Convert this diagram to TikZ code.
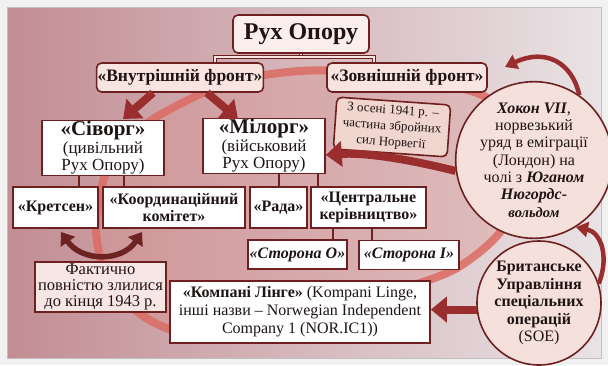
\documentclass[tikz,border=0pt]{standalone}
\usepackage{fontspec}
\setmainfont{Liberation Serif}
\usetikzlibrary{arrows.meta,shapes.geometric,calc}
\definecolor{maroon}{HTML}{6E1F1F}
\definecolor{boxpink}{HTML}{F8E4E0}
\definecolor{ruhpink}{HTML}{FCEEEA}
\definecolor{tanpink}{HTML}{F0D6CF}
\definecolor{faktpink}{HTML}{F7E6E3}
\definecolor{circpink}{HTML}{F5E0DB}
\definecolor{arrowred}{HTML}{9A2E2E}
\definecolor{darkarrow}{HTML}{6E2323}
\definecolor{ringcol}{HTML}{DB6C63}
\definecolor{ringfill}{HTML}{D98F8C}
\definecolor{bgL}{HTML}{C28D93}
\definecolor{bgR}{HTML}{E9E3E5}
\definecolor{framegray}{HTML}{F1F1F1}
\definecolor{txt}{HTML}{1E1414}
\newcommand\fsz[2]{\fontsize{#1}{#2}\selectfont}
\begin{document}
\begin{tikzpicture}[x=1pt,y=-1pt,
  box/.style={draw=maroon, line width=1.6pt, fill=white, align=center, inner sep=1pt, text=txt},
  rbox/.style={box, rounded corners=5pt, fill=boxpink},
  circ/.style={circle, draw=maroon, line width=1.6pt, fill=circpink, align=center, inner sep=0pt, text=txt},
  conn/.style={draw=maroon, line width=1.8pt},
  bar/.style={draw=maroon, line width=0.9pt, double=boxpink, double distance=2.4pt},
  blockarrow/.style={line width=8pt, draw=arrowred, -{Triangle[width=25pt,length=16pt]}},
  thinarrow/.style={line width=4.5pt, draw=arrowred, -{Triangle[width=15pt,length=12pt]}},
  dblarrow/.style={line width=5.5pt, draw=darkarrow, {Triangle[width=17pt,length=12pt]}-{Triangle[width=17pt,length=12pt]}}
]
\useasboundingbox (0,0) rectangle (608,365);
\fill[framegray] (0,0) rectangle (608,365);
\shade[left color=bgL, right color=bgR] (7,7) rectangle (601,358);
\draw[black!25, line width=0.6pt] (7,7) rectangle (601,358);

% ring
\begin{scope}
\clip (7,7) rectangle (601,358);
\fill[ringfill, opacity=0.35] plot[smooth cycle] coordinates {(163,113) (230,82) (300,71) (370,72) (430,82) (490,100) (522,160) (505,225) (465,263) (420,283) (300,318) (190,332) (143,316) (108,280) (96,230) (105,175) (130,138)};
\draw[ringcol, line width=8pt, opacity=0.85] plot[smooth cycle] coordinates {(163,113) (230,82) (300,71) (370,72) (430,82) (490,100) (522,160) (505,225) (465,263) (420,283) (300,318) (190,332) (143,316) (108,280) (96,230) (105,175) (130,138)};
\end{scope}

% top level
\node[rbox, fill=ruhpink, minimum width=136, minimum height=38] (ruh) at (301,34) {\fsz{24}{26}\bfseries Рух Опору};
\node[rbox, minimum width=164, minimum height=29] (vnut) at (180,77.5) {\fsz{17.5}{19}\bfseries «Внутрішній фронт»};
\node[rbox, minimum width=160, minimum height=29] (zovn) at (407,77.5) {\fsz{17.5}{19}\bfseries «Зовнішній фронт»};

\coordinate (b1) at (215,57);
\coordinate (b2) at (374,57);
\draw[bar] (ruh.south) -- (ruh.south |- b1);
\draw[bar] (vnut.north -| b1) |- (b2) -- (zovn.north -| b2);

% level 2
\node[box, minimum width=122, minimum height=54, font=\fsz{17}{17.5}] (sivorg) at (103,148) {{\fsz{21}{18}\bfseries «Сіворг»}\\(цивільний\\Рух Опору)};
\node[box, minimum width=122, minimum height=52, font=\fsz{17}{17.5}] (milorg) at (264,146) {{\fsz{21}{18}\bfseries «Мілорг»}\\(військовий\\Рух Опору)};

% level 3
\node[box, minimum width=85, minimum height=41, font=\fsz{16}{17}\bfseries] (kret) at (55.5,207.5) {«Кретсен»};
\node[box, minimum width=142, minimum height=41, font=\fsz{16}{17}\bfseries] (koord) at (174,207.5) {«Координаційний\\комітет»};
\node[box, minimum width=57, minimum height=41, font=\fsz{16}{17}\bfseries] (rada) at (278.5,207.5) {«Рада»};
\node[box, minimum width=115, minimum height=41, font=\fsz{16}{17}\bfseries] (centr) at (368.5,207.5) {«Центральне\\керівництво»};

\node[box, minimum width=99, minimum height=29, font=\fsz{16}{17}\bfseries\itshape] (storO) at (297.5,254.5) {«Сторона О»};
\node[box, minimum width=100, minimum height=29, font=\fsz{16}{17}\bfseries\itshape] (storI) at (409,255) {«Сторона І»};

\draw[conn] (sivorg.south -| 79,0) -- (kret.north -| 79,0);
\draw[conn] (sivorg.south -| 124,0) -- (koord.north -| 124,0);
\draw[conn] (milorg.south -| 279,0) -- (rada.north -| 279,0);
\draw[conn] (milorg.south -| 318,0) -- (centr.north -| 318,0);
\draw[conn] (centr.south -| 333,0) -- (storO.north -| 333,0);
\draw[conn] (centr.south -| 372,0) -- (storI.north -| 372,0);

\node[box, fill=faktpink, minimum width=131, minimum height=50, font=\fsz{16.5}{16}] (fakt) at (100.5,287) {Фактично\\повністю злилися\\до кінця 1943 р.};
\node[box, minimum width=260, minimum height=62, font=\fsz{16}{18}] (komp) at (300,312) {{\bfseries «Компані Лінге»} (Kompani Linge,\\інші назви – Norwegian Independent\\Company 1 (NOR.IC1))};

\node[rbox, fill=tanpink, rotate=-4, minimum width=114, minimum height=52, font=\fsz{13}{16}] (zosen) at (392,127) {З осені 1941 р. –\\частина збройних\\сил Норвегії};

% circles
\node[circ, minimum size=144, font=\fsz{16}{17.3}] (hokon) at (534,160) {{\bfseries\itshape Хокон VII},\\норвезький\\уряд в еміграції\\(Лондон) на\\чолі з \textbf{\textit{Юганом}}\\\textbf{\textit{Нюгордс-}}\\{\fsz{14.5}{16}\bfseries\itshape вольдом}};
\node[circ, minimum size=124, font=\fsz{16}{17.5}] (soe) at (539,303) {\bfseries Британське\\\bfseries Управління\\\bfseries спеціальних\\\bfseries операцій\\(SOE)};

% arrows
\draw[blockarrow] (vnut.south -| 153,0) -- (123,119);
\draw[blockarrow] (vnut.south -| 207,0) -- (238,119);
\draw[blockarrow] (hokon.188) .. controls (420,162) and (370,152) .. (milorg.east |- 0,155);
\draw[blockarrow] (soe.186) -- (soe.186 -| komp.east);
\draw[thinarrow] (hokon.55) .. controls (572,62) and (545,48) .. (505,67);
\draw[thinarrow] (soe.18) .. controls (610,255) and (600,232) .. (hokon.-58);
\coordinate (k1) at (61,232);
\coordinate (k2) at (142,232);
\draw[dblarrow] (k1) .. controls (82,262) and (122,262) .. (k2);
\end{tikzpicture}
\end{document}
